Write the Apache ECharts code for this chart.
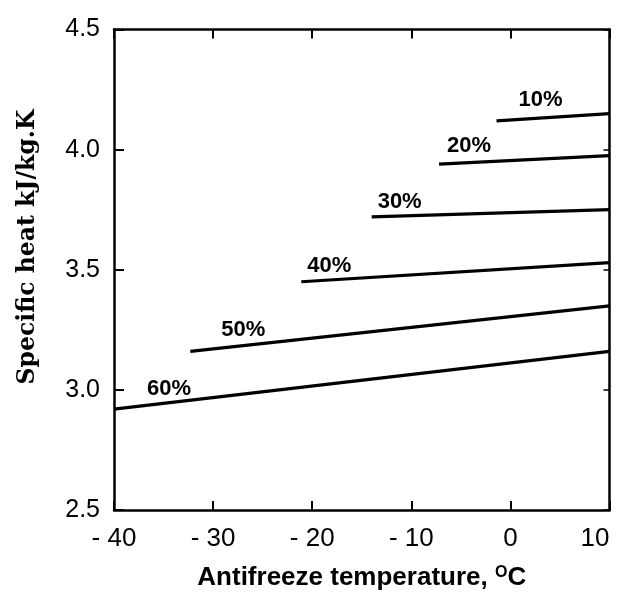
<!DOCTYPE html>
<html>
<head>
<meta charset="utf-8">
<script src="https://cdn.jsdelivr.net/npm/echarts@6/dist/echarts.min.js"></script>
<style>
  html, body { margin: 0; padding: 0; background: #fff; }
  #main { width: 620px; height: 603px; }
</style>
</head>
<body>
<div id="main"></div>
<script>
// 防冻液比热数据 (温度 °C, 比热 kJ/kg.K)
const seriesNames = ['10%', '20%', '30%', '40%', '50%', '60%'];
const startTemps = [-1.4, -7.2, -14, -21.1, -32.3, -40];
const endTemps = [10, 10, 10, 10, 10, 10];
const startHeats = [4.12, 3.94, 3.72, 3.45, 3.16, 2.92];
const endHeats = [4.15, 3.975, 3.75, 3.53, 3.35, 3.16];

// 标签偏移 (像素)
const labelOffsets = [[44, -21], [30, -18], [28, -15], [28, -16], [53, -21], [55, -20]];

const chart = echarts.init(document.getElementById('main'));

const series = seriesNames.map((name, i) => ({
    name: name,
    type: 'line',
    symbol: 'none',
    lineStyle: { color: '#000', width: 3.2 },
    data: [[startTemps[i], startHeats[i]], [endTemps[i], endHeats[i]]],
    markPoint: {
        symbol: 'circle',
        symbolSize: 0,
        label: {
            show: true,
            formatter: name,
            color: '#000',
            fontFamily: 'Liberation Sans',
            fontWeight: 'bold',
            fontSize: 22,
            offset: labelOffsets[i]
        },
        data: [{ coord: [startTemps[i], startHeats[i]] }]
    }
}));

const frameLine = { show: true, onZero: false, lineStyle: { color: '#000', width: 2.5 } };

chart.setOption({
    animation: false,
    backgroundColor: '#fff',
    grid: { left: 114, right: 10.5, top: 29.5, bottom: 93, containLabel: false, outerBoundsMode: 'none' },
    xAxis: [{
        type: 'value',
        min: -40,
        max: 10,
        interval: 10,
        position: 'bottom',
        name: '{b|Antifreeze temperature, }{s|O}{b|C}',
        nameLocation: 'middle',
        nameGap: 55,
        nameTextStyle: {
            rich: {
                b: { fontFamily: 'Liberation Sans', fontWeight: 'bold', fontSize: 26, color: '#000' },
                s: { fontFamily: 'Liberation Sans', fontWeight: 'bold', fontSize: 16, color: '#000', verticalAlign: 'top', padding: [0, 0, 10, 0] }
            }
        },
        axisLine: frameLine,
        axisTick: { show: true, inside: true, length: 9, lineStyle: { color: '#000', width: 2 } },
        axisLabel: {
            color: '#000',
            fontFamily: 'Liberation Sans',
            fontSize: 26,
            margin: 16,
            alignMaxLabel: 'right',
            formatter: v => (v < 0 ? '- ' + Math.abs(v) : String(v))
        },
        splitLine: { show: false }
    }, {
        type: 'value',
        min: -40,
        max: 10,
        interval: 10,
        position: 'top',
        axisLine: frameLine,
        axisTick: { show: true, inside: true, length: 9, lineStyle: { color: '#000', width: 2 } },
        axisLabel: { show: false },
        splitLine: { show: false }
    }],
    yAxis: [{
        type: 'value',
        min: 2.5,
        max: 4.5,
        interval: 0.5,
        position: 'left',
        axisLine: frameLine,
        axisTick: { show: true, inside: true, length: 10, lineStyle: { color: '#000', width: 2 } },
        axisLabel: {
            color: '#000',
            fontFamily: 'Liberation Sans',
            fontSize: 25,
            margin: 14,
            padding: [0, 0, 12, 0],
            formatter: v => v.toFixed(1)
        },
        splitLine: { show: false }
    }, {
        type: 'value',
        min: 2.5,
        max: 4.5,
        interval: 0.5,
        position: 'right',
        axisLine: frameLine,
        axisTick: { show: true, inside: true, length: 6, lineStyle: { color: '#000', width: 1.5 } },
        axisLabel: { show: false },
        splitLine: { show: false }
    }],
    graphic: [{
        type: 'text',
        x: 28,
        y: 247,
        rotation: Math.PI / 2,
        style: {
            text: 'Specific heat kJ/kg.K',
            fontFamily: 'DejaVu Serif',
            fontWeight: 'bold',
            fontSize: 23.5,
            fill: '#000',
            align: 'center',
            verticalAlign: 'middle'
        }
    }],
    series: series
});
</script>
</body>
</html>
